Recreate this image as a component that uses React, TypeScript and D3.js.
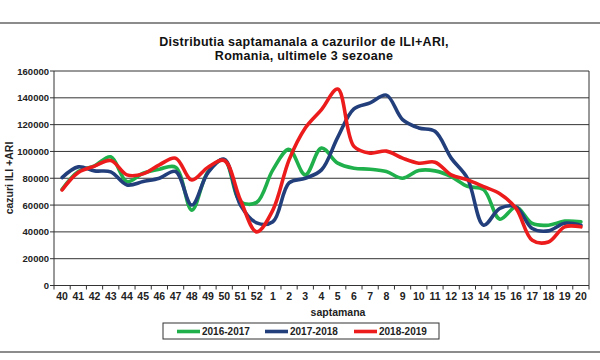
import React from "react";
import * as d3 from "d3";

const weeks = ["40","41","42","43","44","45","46","47","48","49","50","51","52","1","2","3","4","5","6","7","8","9","10","11","12","13","14","15","16","17","18","19","20"];

const s2016 = [71750,85000,89250,96000,77500,83750,86750,88250,56250,85000,93750,62500,62000,86250,101500,82500,102500,91250,87500,86750,85000,80000,85750,85500,81250,74000,71500,49500,58500,46250,45000,48000,47500];
const s2017 = [80500,88500,85500,84750,75000,77500,80000,85000,60000,84250,94250,60000,46750,47500,76500,80000,86250,110500,131750,136250,142000,123750,117500,115000,95000,80000,45000,57500,58500,42500,40750,46500,45000];
const s2018 = [71250,84250,89000,93250,82500,83250,90000,95000,78750,88250,93250,63750,40000,56250,93750,117500,131250,146500,103750,98750,100250,95000,91250,92000,82500,78750,73750,68500,57500,33750,32500,43750,43750];

const seriesNames = ["2016-2017","2017-2018","2018-2019"];
const seriesColors = ["#1fb04c","#223f7c","#ec1c1c"];
const yTicks = [0,20000,40000,60000,80000,100000,120000,140000,160000];

export default function App() {
  const W = 600, H = 360;
  const L = 54, R = 589, T = 71, B = 285.5;
  const x = d3.scaleBand<string>().domain(weeks).range([L, R]);
  const y = d3.scaleLinear().domain([0, 160000]).range([B, T]);
  const line = d3.line<number>()
    .x((_, i) => (x(weeks[i]) as number) + x.bandwidth() / 2)
    .y((d) => y(d))
    .curve(d3.curveCatmullRom.alpha(0.5));
  const data = [s2016, s2017, s2018];
  const font = "'Liberation Sans', Arial, sans-serif";
  const boundaries = weeks.map((w) => x(w) as number).concat([R]);
  const legendX = [177, 265, 354];
  return (
    <svg width={W} height={H} style={{ position: "absolute", left: 0, top: 0, background: "#fff" }} fontFamily={font}>
      <rect x={0} y={0} width={W} height={H} fill="#fff" />
      <line x1={0} x2={W} y1={23} y2={23} stroke="#666" strokeWidth={1.5} />
      <line x1={0} x2={W} y1={352} y2={352} stroke="#666" strokeWidth={1.5} />
      <text x={304} y={45.5} textAnchor="middle" fontSize={12.5} letterSpacing={0.3} fontWeight="bold" fill="#111">Distributia  saptamanala a cazurilor de ILI+ARI,</text>
      <text x={304} y={59.5} textAnchor="middle" fontSize={12.5} letterSpacing={0.3} fontWeight="bold" fill="#111">Romania, ultimele 3 sezoane</text>
      {yTicks.map((t) => (
        <g key={t}>
          <line x1={L} x2={R} y1={y(t)} y2={y(t)} stroke="#333" strokeWidth={1} />
          <line x1={L - 4} x2={L} y1={y(t)} y2={y(t)} stroke="#333" strokeWidth={1} />
          <text x={49} y={y(t) + 3.5} textAnchor="end" fontSize={9.5} fontWeight="bold" fill="#222">{t}</text>
        </g>
      ))}
      <line x1={L} x2={L} y1={T} y2={B} stroke="#333" strokeWidth={1} />
      <line x1={R} x2={R} y1={T} y2={B} stroke="#333" strokeWidth={1} />
      {boundaries.map((bx, i) => (
        <line key={i} x1={bx} x2={bx} y1={B} y2={B + 4} stroke="#333" strokeWidth={1} />
      ))}
      {weeks.map((w) => (
        <text key={w} x={(x(w) as number) + x.bandwidth() / 2} y={300} textAnchor="middle" fontSize={10.5} fontWeight="bold" fill="#222">{w}</text>
      ))}
      <text transform={`translate(13,178) rotate(-90)`} textAnchor="middle" fontSize={10.5} fontWeight="bold" fill="#222">cazuri ILI +ARI</text>
      <text x={338} y={316} textAnchor="middle" fontSize={10.5} fontWeight="bold" fill="#222">saptamana</text>
      {data.map((d, k) => (
        <path key={k} d={line(d) || ""} fill="none" stroke={seriesColors[k]} strokeWidth={3.6} strokeLinejoin="round" strokeLinecap="round" />
      ))}
      <rect x={163} y={323} width={276} height={16} fill="#fff" stroke="#333" strokeWidth={1} />
      {seriesNames.map((n, k) => (
        <g key={n}>
          <line x1={legendX[k]} x2={legendX[k] + 23} y1={331.5} y2={331.5} stroke={seriesColors[k]} strokeWidth={3.6} />
          <text x={legendX[k] + 25} y={335} fontSize={10} fontWeight="bold" fill="#222">{n}</text>
        </g>
      ))}
    </svg>
  );
}
